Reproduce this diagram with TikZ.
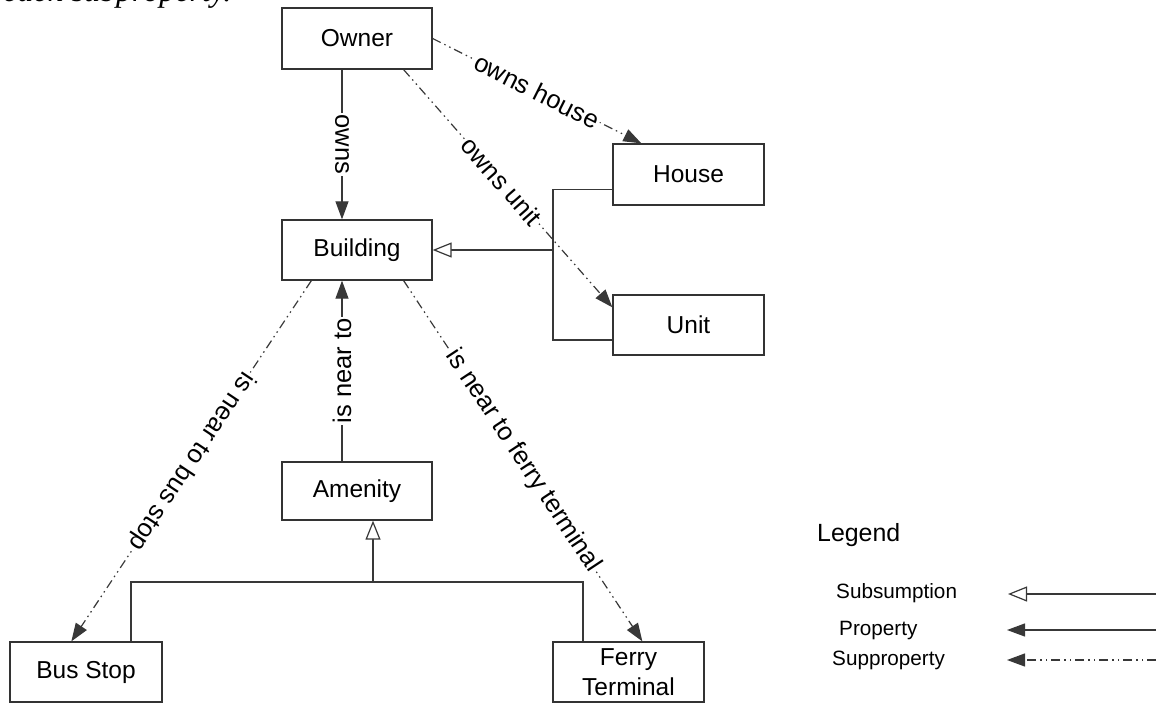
\documentclass[tikz,border=0pt]{standalone}
\usepackage{fontspec}
\setmainfont{Liberation Sans}
\newfontfamily\timesfont{Liberation Serif}
\usetikzlibrary{arrows.meta,calc}
\begin{document}
\begin{tikzpicture}[x=1pt,y=-1pt,
  box/.style={draw=black!80, line width=1.3pt, minimum width=150pt, minimum height=60pt, inner sep=0pt, font=\fontsize{24.5}{30}\selectfont, align=center},
  prop/.style={draw=black!78, line width=1.2pt, -{Triangle[length=18pt,width=13pt]}},
  supp/.style={prop, dash pattern=on 9pt off 4pt on 1.5pt off 4pt on 1.5pt off 4pt},
  subs/.style={draw=black!78, line width=1.2pt, -{Triangle[open,fill=white,length=19pt,width=15pt]}},
  plain/.style={draw=black!78, line width=1.2pt},
  elabel/.style={fill=white, inner sep=2pt, font=\fontsize{25.5}{30}\selectfont, sloped, allow upside down},
  legtxt/.style={anchor=base west, inner sep=0pt, font=\fontsize{20.7}{24}\selectfont}
]
\useasboundingbox (0,0) rectangle (1156,703);

\node[anchor=base west, inner sep=0pt, font=\timesfont\itshape\fontsize{32}{36}\selectfont] (cut) at (3,2) {each subproperty.};

% boxes
\node[box, minimum height=61pt] (owner) at (357,38.5) {Owner};
\node[box] (building) at (357,250) {Building};
\node[box, minimum width=151pt, minimum height=61pt] (house) at (688.5,174.5) {House};
\node[box, minimum width=151pt] (unit) at (688.5,325) {Unit};
\node[box, minimum height=58pt] (amenity) at (357,491) {Amenity};
\node[box, minimum width=152pt] (bus) at (86,672) {Bus Stop};
\node[box, minimum width=151pt] (ferry) at (628.5,672) {Ferry\\Terminal};

% subsumption
\coordinate (j1) at (553,250);
\draw[plain] ($(house.west)+(0,15)$) -| (j1);
\draw[plain] ($(unit.west)+(0,15)$) -| (j1);
\draw[subs] (j1) -- (building.east);

\coordinate (j2) at (373,582);
\draw[plain] ($(bus.north)+(45,0)$) |- (j2);
\draw[plain] ($(ferry.north)+(-45.5,0)$) |- (j2);
\draw[subs] (j2) -- ($(amenity.south)+(16,0)$);

% properties
\draw[prop] ([xshift=-15pt]owner.south) -- node[elabel]{owns} ([xshift=-15pt]building.north);
\draw[prop] ([xshift=-15pt]amenity.north) -- node[elabel]{is near to} ([xshift=-15pt]building.south);

% subproperties
\draw[supp] (owner.east) -- node[elabel]{owns house} ($(house.north west)+(29,0)$);
\draw[supp] ($(owner.south east)+(-29,0)$) -- node[elabel, pos=0.47]{owns unit} ($(unit.north west)+(0,13)$);
\draw[supp] ($(building.south west)+(30,0)$) -- node[elabel]{is near to bus stop} ($(bus.north west)+(62,0)$);
\draw[supp] ($(building.south east)+(-29,0)$) -- node[elabel]{is near to ferry terminal} ($(ferry.north west)+(90,0)$);

% legend
\node[anchor=base west, inner sep=0pt, font=\fontsize{24.9}{28}\selectfont] (legend) at (817,541) {Legend};
\node[legtxt] (lsubs) at (836,598) {Subsumption};
\node[legtxt] (lprop) at (839,635) {Property};
\node[legtxt] (lsupp) at (832,665) {Supproperty};
\coordinate (s1) at (1156,594); \coordinate (s2) at (1008,594);
\coordinate (p1) at (1156,630); \coordinate (p2) at (1007,630);
\coordinate (q1) at (1156,660); \coordinate (q2) at (1007,660);
\draw[subs] (s1) -- (s2);
\draw[prop] (p1) -- (p2);
\draw[supp] (q1) -- (q2);
\end{tikzpicture}
\end{document}
